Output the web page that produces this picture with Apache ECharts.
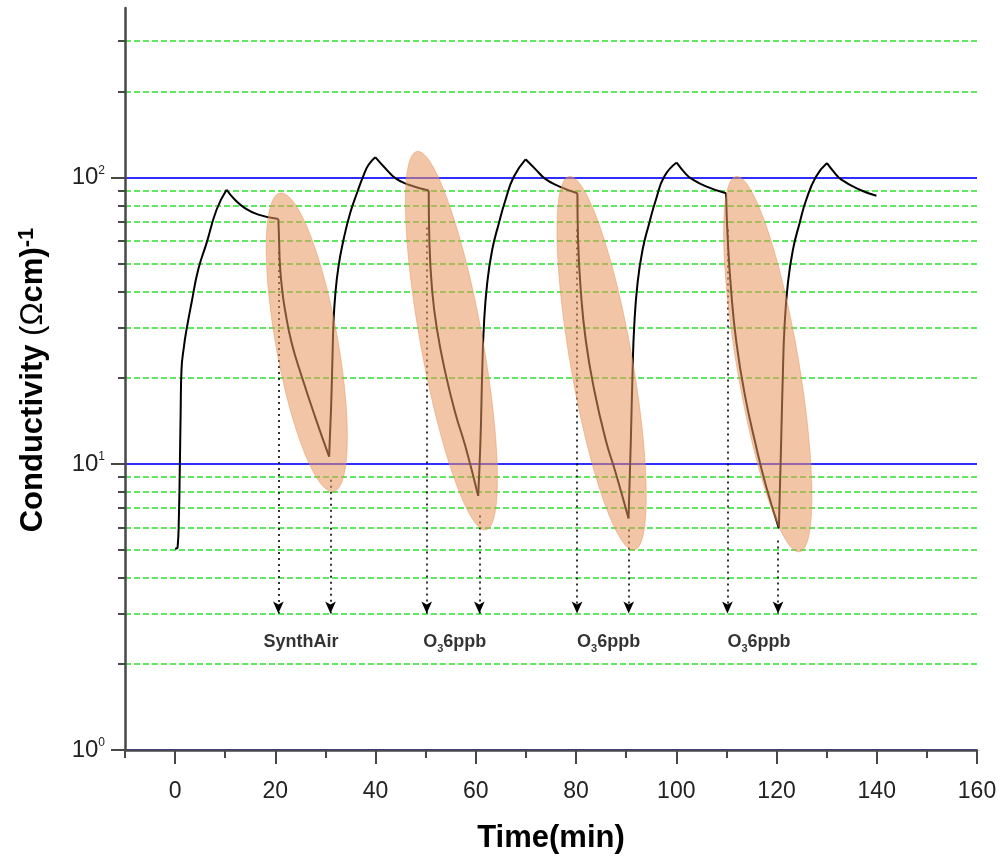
<!DOCTYPE html>
<html><head><meta charset="utf-8">
<script src="https://cdn.jsdelivr.net/npm/echarts@6/dist/echarts.min.js"></script>
<style>html,body{margin:0;padding:0;background:#fff}#c{width:1002px;height:860px}</style>
</head><body><div id="c"></div>
<script>
// ---- axis ticks ----
const xMajorTicks = [0, 20, 40, 60, 80, 100, 120, 140, 160];
const xMinorTicks = [-10, 10, 30, 50, 70, 90, 110, 130, 150];
const yMajorTicks = [1, 10, 100];
const yMinorTicks = [2, 3, 4, 5, 6, 7, 8, 9, 20, 30, 40, 50, 60, 70, 80, 90, 200, 300];

// ---- conductivity trace, [time (min), conductivity] ----
const rise1 = [[0, 5.05], [0.5, 5.12], [0.75, 6.5], [0.93, 9.5], [1.1, 15], [1.27, 21.3], [1.8, 26], [2.27, 29.4], [3.27, 36.5], [4.6, 47.7], [6.27, 59.1], [8.27, 77.3], [10.27, 90.8]];
const decay1 = [[10.27, 90.8], [11.93, 83.8], [13.93, 78.3], [16.6, 74.3], [20.6, 71.7]];
const fall1 = [[20.6, 71.7], [20.75, 60], [20.93, 49], [21.4, 40], [21.93, 34.5], [23.27, 26.4], [25.27, 20.2], [27.93, 14.6], [30.73, 10.6]];
const rise2 = [[30.73, 10.6], [31.13, 15.9], [31.4, 23.7], [31.6, 31], [31.93, 38.5], [32.6, 49], [33.6, 60.7], [34.93, 75.3], [36.27, 88.3], [37.6, 102], [38.6, 111], [39.93, 118]];
const decay2 = [[39.93, 118], [41.93, 108], [43.93, 99.7], [46.6, 94.5], [50.6, 90.3]];
const fall2 = [[50.6, 90.3], [50.73, 60.7], [51.27, 40.6], [52.27, 29.4], [53.93, 20.8], [55.93, 15], [57.93, 11.5], [60.47, 7.73]];
const rise3 = [[60.47, 7.73], [60.93, 12.1], [61.27, 20.8], [61.6, 30.2], [62.27, 42.8], [63.27, 56], [64.6, 69.4], [65.93, 83.8], [67.6, 101], [69.93, 116]];
const decay3 = [[69.93, 116], [71.93, 107], [73.93, 98.9], [76.6, 93.3], [80.27, 88.3]];
const fall3 = [[80.27, 88.3], [80.4, 60.7], [80.93, 40.6], [81.93, 27.1], [83.6, 18.2], [85.93, 12.1], [87.93, 9.27], [90.47, 6.45]];
const rise4 = [[90.47, 6.45], [90.93, 12.1], [91.27, 20.8], [91.6, 30.2], [92.27, 42.8], [93.27, 56], [94.6, 69.4], [95.93, 83.8], [97.6, 101], [100.07, 113]];
const decay4 = [[100.07, 113], [101.93, 103], [102.93, 99.5], [105.93, 93.3], [109.93, 88.3]];
const fall4 = [[109.93, 88.3], [110.27, 60.7], [110.93, 40.6], [111.93, 27.1], [113.6, 17.7], [115.93, 11.5], [117.93, 8.33], [120.47, 5.96]];
const rise5 = [[120.47, 5.96], [120.93, 12.1], [121.27, 20.8], [121.6, 30.2], [122.27, 42.8], [123.27, 56], [124.6, 69.4], [125.93, 83.8], [127.9, 101], [130.07, 112.5]];
const decay5 = [[130.07, 112.5], [131.6, 104], [132.93, 98.5], [136.6, 90.8], [139.93, 86.5]];
const traceSegments = [rise1, decay1, fall1, rise2, decay2, fall2, rise3, decay3, fall3, rise4, decay4, fall4, rise5, decay5];

// ---- gas switching arrows ----
const arrowTimes = [20.6, 31.0, 50.2, 60.7, 80.2, 90.5, 110.2, 120.3];
const arrowStartValues = [55, 8.8, 67, 6.6, 66, 5.9, 66, 5.4];
const arrowEndValue = 3;

// ---- annotation labels ----
const labelTimes = [25.1, 55.8, 86.5, 116.5];
const labelValue = 2.39;
const labelTexts = ['SynthAir', 'O₃6ppb', 'O₃6ppb', 'O₃6ppb'];

// ---- highlight ellipses: major-axis end points [time, conductivity] ----
const ellipseTops = [[20.94, 88.4], [48.26, 123.6], [78.6, 101], [111.9, 101]];
const ellipseBottoms = [[31.6, 8.0], [62.0, 5.88], [91.6, 5.0], [124.6, 4.93]];

const chart = echarts.init(document.getElementById('c'), null, {renderer: 'canvas'});

const AX = '#484848';
const series = [];
traceSegments.forEach(function (seg) {
  series.push({
    type: 'line', data: seg, showSymbol: false, symbol: 'none', smooth: 0.5,
    lineStyle: {color: '#000', width: 2}, silent: true, z: 3, animation: false,
    xAxisIndex: 0, yAxisIndex: 0
  });
});

series.push({
  type: 'line', data: [], xAxisIndex: 0, yAxisIndex: 0, silent: true, animation: false,
  markLine: {
    silent: true, animation: false,
    symbol: ['none', 'arrow'], symbolSize: [8, 12],
    label: {show: false},
    lineStyle: {color: '#000', type: [2, 4], width: 1.6},
    data: arrowTimes.map(function (t, i) {
      return [{coord: [t, arrowStartValues[i]]}, {coord: [t, arrowEndValue]}];
    })
  }
});

series.push({
  type: 'scatter', xAxisIndex: 0, yAxisIndex: 0, silent: true, animation: false,
  symbolSize: 1, itemStyle: {color: 'rgba(0,0,0,0)'},
  data: labelTimes.map(function (t) { return [t, labelValue]; }),
  label: {
    show: true, position: 'inside',
    formatter: function (p) {
      const txt = labelTexts[p.dataIndex];
      if (txt.indexOf('O₃') === 0) return '{m|O}{sub|3}{m|' + txt.slice(2) + '}';
      return '{m|' + txt + '}';
    },
    rich: {
      m: {fontFamily: 'Liberation Sans', fontSize: 18, fontWeight: 'bold', color: '#000', lineHeight: 26, verticalAlign: 'middle'},
      sub: {fontFamily: 'Liberation Sans', fontSize: 11, fontWeight: 'bold', color: '#000', lineHeight: 26, verticalAlign: 'bottom'}
    }
  }
});

series.push({
  type: 'custom', xAxisIndex: 0, yAxisIndex: 0, silent: true, animation: false, z: 5,
  data: ellipseTops.map(function (p, i) { return [p[0], p[1], ellipseBottoms[i][0], ellipseBottoms[i][1]]; }),
  encode: {x: [0, 2], y: [1, 3]},
  renderItem: function (params, api) {
    const p1 = api.coord([api.value(0), api.value(1)]);
    const p2 = api.coord([api.value(2), api.value(3)]);
    const cx = (p1[0] + p2[0]) / 2, cy = (p1[1] + p2[1]) / 2;
    const dx = p2[0] - p1[0], dy = p2[1] - p1[1];
    const a = Math.hypot(dx, dy) / 2, b = 31;
    const ang = Math.atan2(dy, dx);
    const pts = [];
    for (let k = 0; k < 96; k++) {
      const th = k / 96 * Math.PI * 2;
      const ex = a * Math.cos(th), ey = b * Math.sin(th);
      pts.push([cx + ex * Math.cos(ang) - ey * Math.sin(ang), cy + ex * Math.sin(ang) + ey * Math.cos(ang)]);
    }
    return {type: 'polygon', shape: {points: pts}, style: {fill: 'rgba(232,150,95,0.55)', stroke: 'rgba(230,140,80,0.45)', lineWidth: 1}};
  }
});

const option = {
  animation: false,
  backgroundColor: '#fff',
  grid: {left: 125, right: 25, top: 8, bottom: 110, containLabel: false},
  xAxis: [{
    type: 'value', min: -10, max: 160, position: 'bottom',
    name: 'Time(min)', nameLocation: 'middle', nameGap: 73,
    nameTextStyle: {fontFamily: 'Liberation Sans', fontSize: 31, fontWeight: 'bold', color: '#000'},
    axisLine: {show: true, onZero: false, lineStyle: {color: AX, width: 2.5}},
    axisTick: {show: true, inside: false, length: 14, customValues: xMajorTicks, lineStyle: {color: AX, width: 2}},
    axisLabel: {show: true, margin: 30, customValues: xMajorTicks, fontFamily: 'Liberation Sans', fontSize: 23, color: '#222'},
    splitLine: {show: false}
  }, {
    type: 'value', min: -10, max: 160, position: 'bottom', gridIndex: 0,
    axisLine: {show: false, onZero: false},
    axisTick: {show: true, inside: false, length: 8, customValues: xMinorTicks, lineStyle: {color: AX, width: 2}},
    axisLabel: {show: false},
    splitLine: {show: false}
  }],
  yAxis: [{
    type: 'log', logBase: 10, min: 1, max: 392, position: 'left',
    axisLine: {show: true, onZero: false, lineStyle: {color: AX, width: 2.5}},
    axisTick: {show: true, inside: false, length: 14, customValues: yMajorTicks, lineStyle: {color: AX, width: 2}},
    axisLabel: {
      show: true, margin: 20, customValues: yMajorTicks,
      formatter: function (v) { return '{b|10}{s|' + Math.round(Math.log10(v)) + '}'; },
      rich: {
        b: {fontFamily: 'Liberation Sans', fontSize: 24, color: '#222', lineHeight: 26, verticalAlign: 'middle'},
        s: {fontFamily: 'Liberation Sans', fontSize: 12, color: '#222', lineHeight: 26, verticalAlign: 'top'}
      }
    },
    splitLine: {show: true, lineStyle: {color: '#2f2fff', width: 2, type: 'solid'}}
  }, {
    type: 'log', logBase: 10, min: 1, max: 392, position: 'left', gridIndex: 0,
    axisLine: {show: false, onZero: false},
    axisTick: {show: true, inside: false, length: 7, customValues: yMinorTicks, lineStyle: {color: AX, width: 2}},
    axisLabel: {show: false},
    splitLine: {show: true, lineStyle: {color: '#2ee02e', width: 1.5, type: [6, 3]}}
  }],
  graphic: [{
    type: 'text', x: 33, y: 380, rotation: Math.PI / 2, z: 10,
    style: {
      text: '{b|Conductivity }{n|(Ω}{b|cm)}{s|-1}',
      align: 'center', verticalAlign: 'middle',
      rich: {
        b: {fontFamily: 'Liberation Sans', fontSize: 31, fontWeight: 'bold', fill: '#000', lineHeight: 35, verticalAlign: 'middle'},
        n: {fontFamily: 'Liberation Sans', fontSize: 31, fill: '#000', lineHeight: 35, verticalAlign: 'middle'},
        s: {fontFamily: 'Liberation Sans', fontSize: 22, fontWeight: 'bold', fill: '#000', lineHeight: 35, verticalAlign: 'top'}
      }
    }
  }],
  series: series
};
chart.setOption(option);
</script></body></html>
